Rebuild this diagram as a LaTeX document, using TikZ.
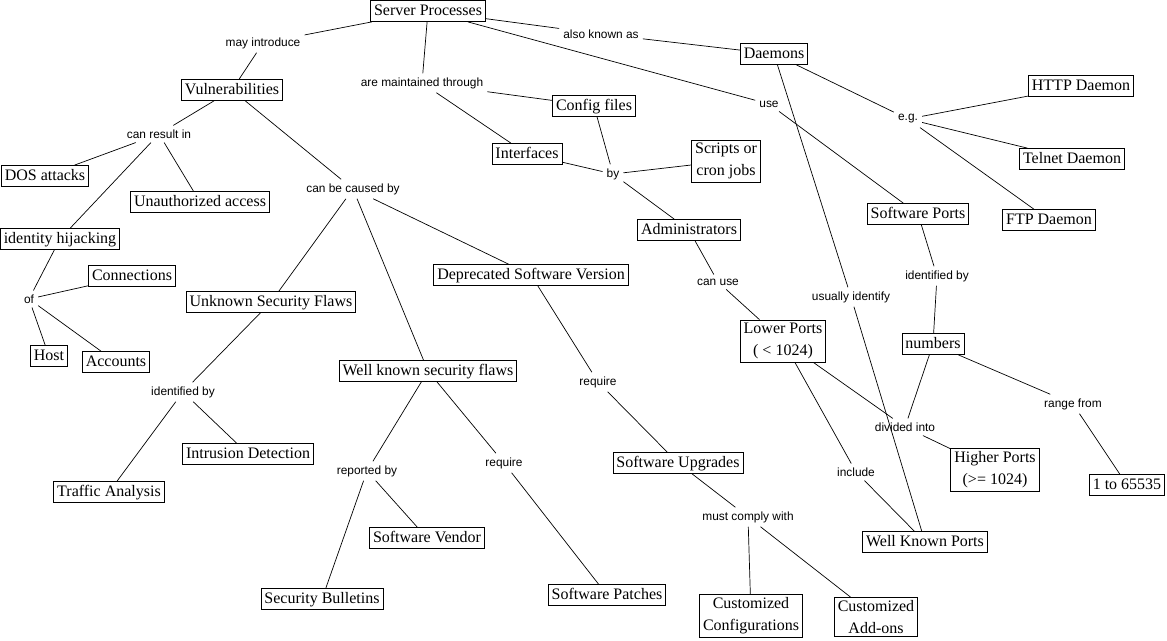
\documentclass[tikz,border=0pt]{standalone}
\usepackage{fontspec}
\setmainfont{Liberation Serif}
\newfontfamily\lblfont{Liberation Sans}
\begin{document}
\begin{tikzpicture}[x=1pt,y=-1pt,
  concept/.style={draw, line width=0.8pt, inner xsep=3.5pt, inner ysep=3pt,
    font=\fontsize{16}{22}\selectfont, text height=11.5pt, text depth=3.5pt},
  concepttwo/.style={draw, line width=0.8pt, inner xsep=3.5pt, inner ysep=3pt,
    font=\fontsize{16}{22}\selectfont, align=center},
  lbl/.style={font=\lblfont\fontsize{11.9}{13}\selectfont, inner sep=4pt},
  conn/.style={line width=0.7pt}]
\useasboundingbox (0,0) rectangle (1167,640);

% concepts
\node[concept] (sp) at (428,11) {Server Processes};
\node[concept] (vul) at (232,90) {Vulnerabilities};
\node[concept] (dae) at (774,54) {Daemons};
\node[concept] (cfg) at (594,106) {Config files};
\node[concept] (intf) at (527,154) {Interfaces};
\node[concepttwo] (scr) at (726,161) {Scripts or\\cron jobs};
\node[concept] (adm) at (689,230) {Administrators};
\node[concept] (http) at (1081,86) {HTTP Daemon};
\node[concept] (tel) at (1072,159) {Telnet Daemon};
\node[concept] (ftp) at (1049,220) {FTP Daemon};
\node[concept] (swp) at (918,214) {Software Ports};
\node[concept] (dos) at (45,176) {DOS attacks};
\node[concept] (una) at (200,202) {Unauthorized access};
\node[concept] (idh) at (60,239) {identity hijacking};
\node[concept] (con) at (132,276) {Connections};
\node[concept] (host) at (49,356) {Host};
\node[concept] (acc) at (116,362) {Accounts};
\node[concept] (usf) at (271,302) {Unknown Security Flaws};
\node[concept] (dsv) at (531,275) {Deprecated Software Version};
\node[concept] (wks) at (428,371) {Well known security flaws};
\node[concept] (ids) at (248,454) {Intrusion Detection};
\node[concept] (tra) at (109,492) {Traffic Analysis};
\node[concept] (sv) at (427,538) {Software Vendor};
\node[concept] (sb) at (322,599) {Security Bulletins};
\node[concept] (spa) at (607,595) {Software Patches};
\node[concept] (sup) at (678,463) {Software Upgrades};
\node[concepttwo] (cc) at (751,616) {Customized\\Configurations};
\node[concepttwo] (ca) at (876,617) {Customized\\Add-ons};
\node[concept] (wkp) at (925,542) {Well Known Ports};
\node[concepttwo] (lp) at (783,341) {Lower Ports\\( < 1024)};
\node[concept] (num) at (933,344) {numbers};
\node[concepttwo] (hp) at (995,470) {Higher Ports\\(>= 1024)};
\node[concept] (rng) at (1127,485) {1 to 65535};

% linking phrases
\node[lbl] (l1) at (263,43) {may introduce};
\node[lbl] (l2) at (422,83) {are maintained through};
\node[lbl] (l3) at (601,34) {also known as};
\node[lbl] (l4) at (769,104) {use};
\node[lbl] (l5) at (908,119) {e.g.};
\node[lbl] (l6) at (159,134) {can result in};
\node[lbl] (l7) at (353,189) {can be caused by};
\node[lbl] (l8) at (613,174) {by};
\node[lbl] (l9) at (718,282) {can use};
\node[lbl] (l10) at (937,276) {identified by};
\node[lbl] (l11) at (851,297) {usually identify};
\node[lbl] (l12) at (29,299) {of};
\node[lbl] (l13) at (183,392) {identified by};
\node[lbl] (l14) at (367,471) {reported by};
\node[lbl] (l15) at (504,463) {require};
\node[lbl] (l16) at (598,382) {require};
\node[lbl] (l17) at (905,427) {divided into};
\node[lbl] (l18) at (1073,404) {range from};
\node[lbl] (l19) at (856,472) {include};
\node[lbl] (l20) at (748,517) {must comply with};

% connectors
\draw[conn] (sp) -- (l1);  \draw[conn] (l1) -- (vul);
\draw[conn] (sp) -- (l2);  \draw[conn] (l2) -- (cfg); \draw[conn] (l2) -- (intf);
\draw[conn] (sp) -- (l3);  \draw[conn] (l3) -- (dae);
\draw[conn] (sp) -- (l4);  \draw[conn] (l4) -- (swp);
\draw[conn] (dae) -- (l5); \draw[conn] (l5) -- (http); \draw[conn] (l5) -- (tel); \draw[conn] (l5) -- (ftp);
\draw[conn] (dae) -- (l11); \draw[conn] (l11) -- (wkp);
\draw[conn] (vul) -- (l6); \draw[conn] (l6) -- (dos); \draw[conn] (l6) -- (una); \draw[conn] (l6) -- (idh);
\draw[conn] (vul) -- (l7); \draw[conn] (l7) -- (usf); \draw[conn] (l7) -- (wks); \draw[conn] (l7) -- (dsv);
\draw[conn] (idh) -- (l12); \draw[conn] (l12) -- (con); \draw[conn] (l12) -- (host); \draw[conn] (l12) -- (acc);
\draw[conn] (usf) -- (l13); \draw[conn] (l13) -- (tra); \draw[conn] (l13) -- (ids);
\draw[conn] (wks) -- (l14); \draw[conn] (l14) -- (sb); \draw[conn] (l14) -- (sv);
\draw[conn] (wks) -- (l15); \draw[conn] (l15) -- (spa);
\draw[conn] (dsv) -- (l16); \draw[conn] (l16) -- (sup);
\draw[conn] (sup) -- (l20); \draw[conn] (l20) -- (cc); \draw[conn] (l20) -- (ca);
\draw[conn] (cfg) -- (l8); \draw[conn] (intf) -- (l8); \draw[conn] (l8) -- (scr); \draw[conn] (l8) -- (adm);
\draw[conn] (adm) -- (l9); \draw[conn] (l9) -- (lp);
\draw[conn] (swp) -- (l10); \draw[conn] (l10) -- (num);
\draw[conn] (num) -- (l17); \draw[conn] (lp) -- (l17); \draw[conn] (l17) -- (hp);
\draw[conn] (num) -- (l18); \draw[conn] (l18) -- (rng);
\draw[conn] (lp) -- (l19); \draw[conn] (l19) -- (wkp);
\end{tikzpicture}
\end{document}
